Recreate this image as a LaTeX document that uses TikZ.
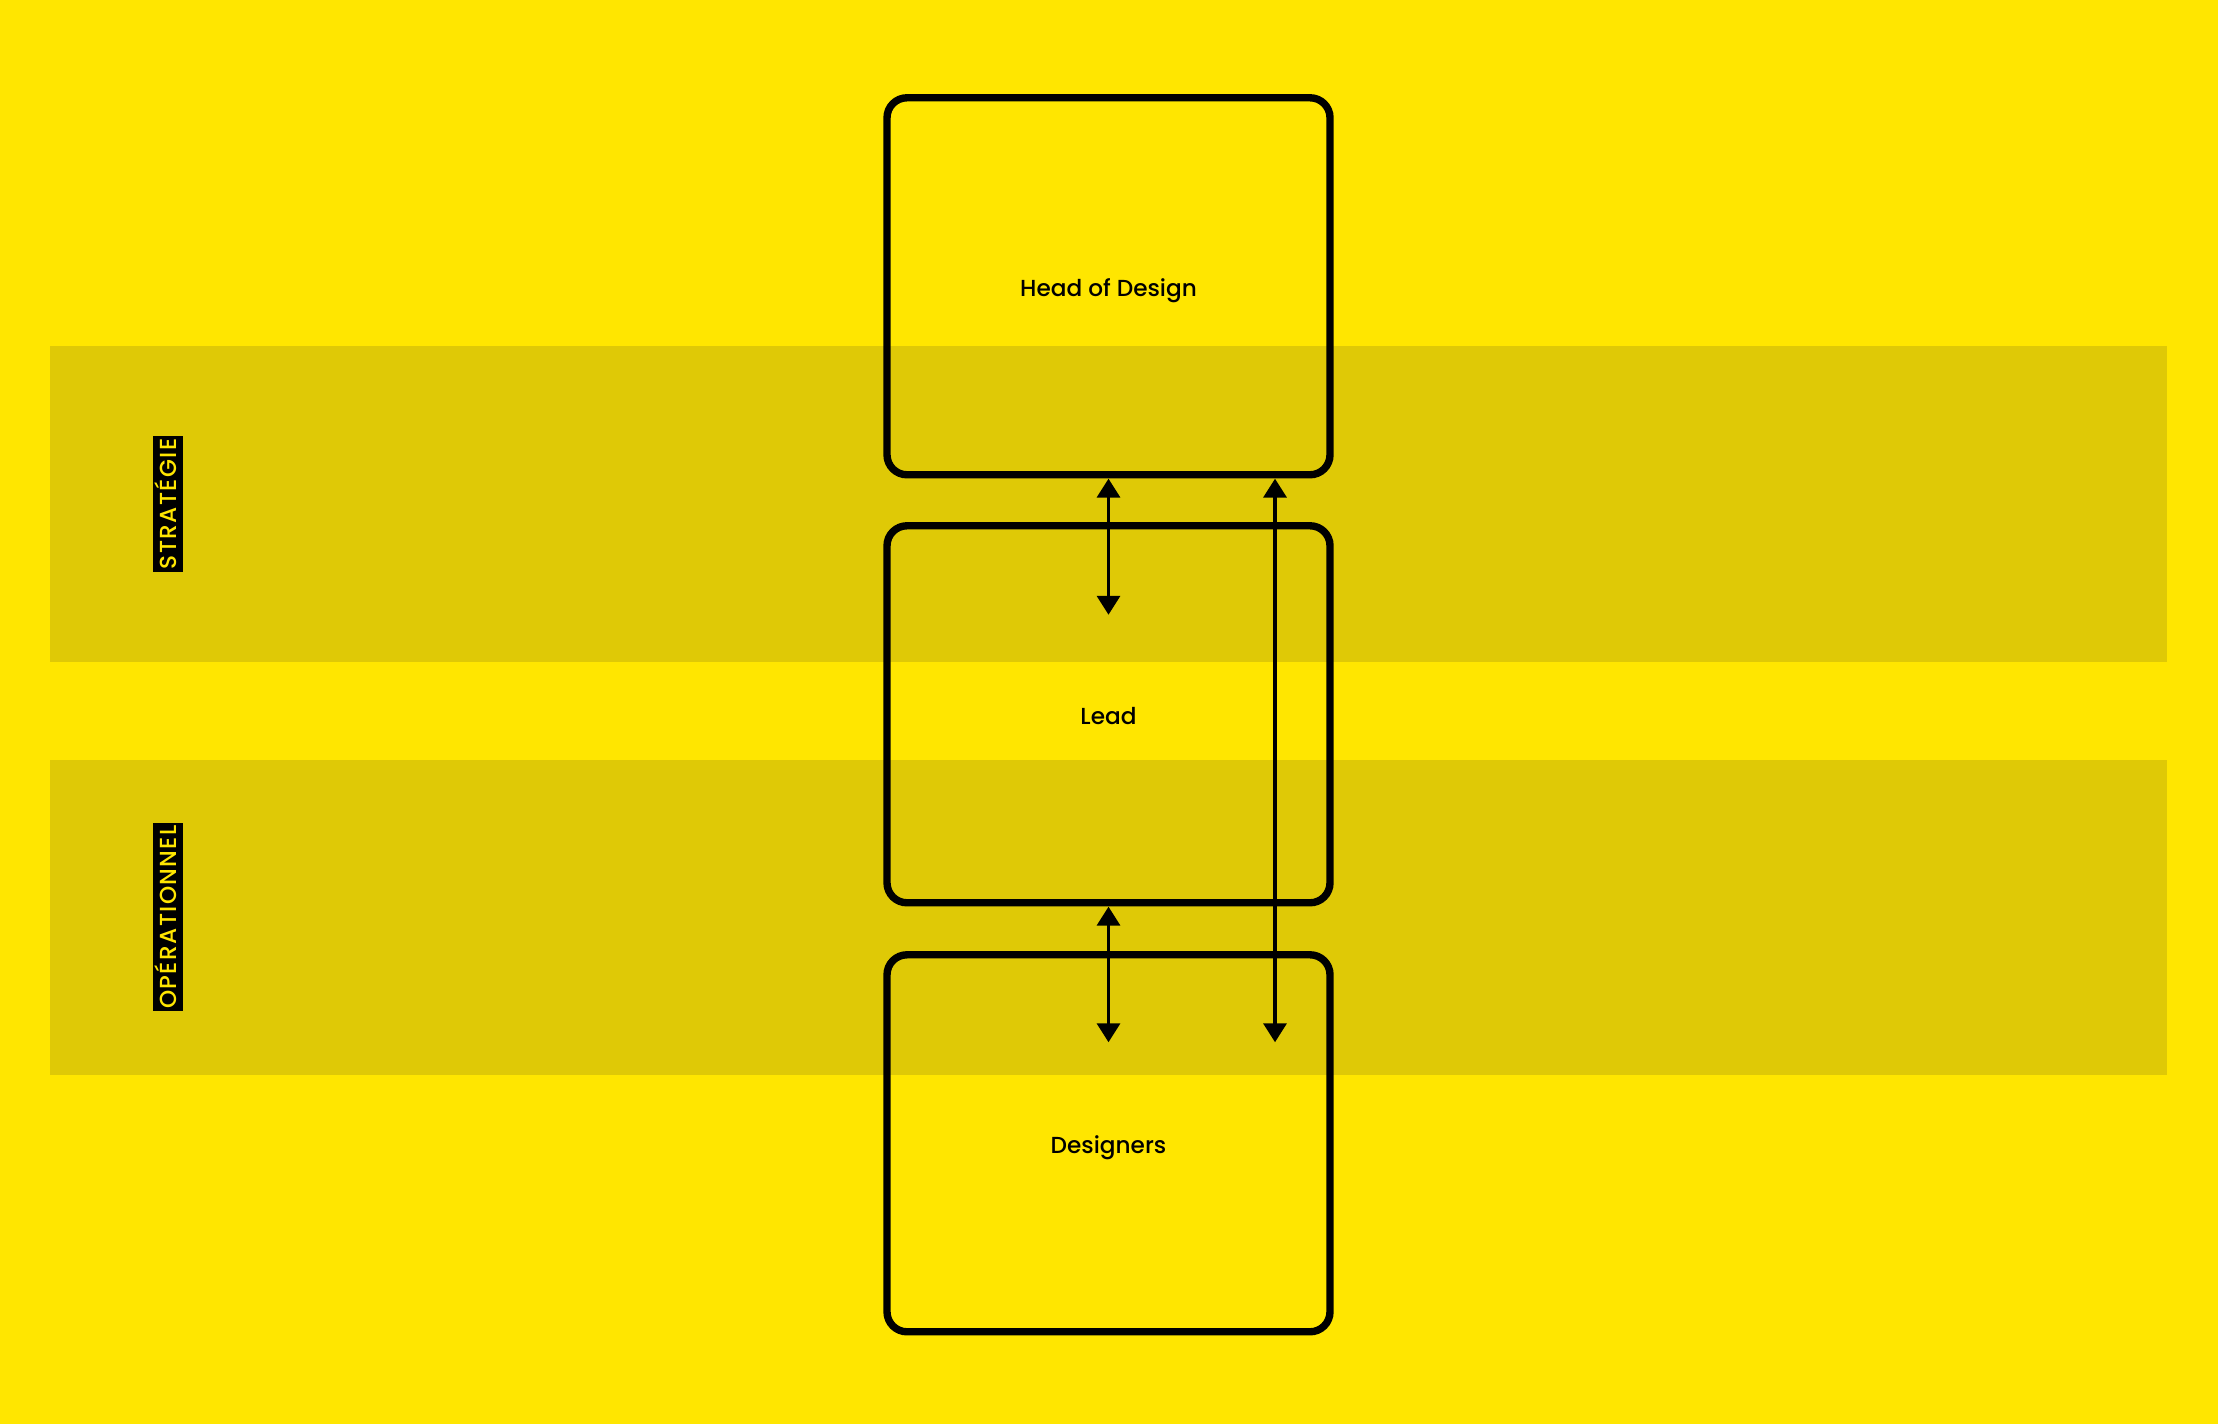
\documentclass[tikz,border=0pt]{standalone}
\usepackage{fontspec}
\setmainfont{Poppins}[UprightFont=* Medium]
\newfontfamily\layerfont{Poppins}[UprightFont=* Medium, LetterSpace=6]
\usetikzlibrary{positioning, arrows.meta}
\definecolor{bgyellow}{HTML}{FFE600}
\definecolor{bandyellow}{HTML}{DFC906}

\begin{document}
\begin{tikzpicture}[
		role/.style={draw, line width=2.1pt, rounded corners=0.2cm, minimum width=4.43cm, minimum height=3.77cm, inner sep=0pt, outer sep=0pt, text height=6pt, text depth=0pt, font=\fontsize{6.6}{8}\selectfont},
		layer/.style={fill=black, text=bgyellow, rotate=90, inner xsep=0.7pt, inner ysep=1.95pt, text height=4.6pt, text depth=0pt, font=\layerfont\fontsize{6.6}{8}\selectfont},
		link/.style={{Triangle[width=6.5pt,length=5.4pt]}-{Triangle[width=6.5pt,length=5.4pt]}, line width=1.1pt, shorten <=1.1pt}
	]
			% background and the two bands
			\fill[bgyellow] (0,0) rectangle (22.18,14.24);
			\fill[bandyellow] (0.495,7.62) rectangle (21.67,10.775);
			\fill[bandyellow] (0.495,3.49) rectangle (21.67,6.644);
			\node[layer] (strat) at (1.68,9.2) {STRATÉGIE};
			\node[layer] (oper) at (1.68,5.07) {OPÉRATIONNEL};
			% roles
			\node[role] (head) at (11.085,11.377) {Head of Design};
			\node[role, below=0.51cm of head] (lead) {Lead};
			\node[role, below=0.52cm of lead] (designers) {Designers};
			% links
			\coordinate[below=0.89cm of lead.north] (leadIn);
			\coordinate[below=0.875cm of designers.north] (designersIn);
			\coordinate (headSide) at ([xshift=1.665cm]head.south);
			\coordinate (designersSide) at ([xshift=1.665cm]designersIn);
			\draw[link] (head.south) -- (leadIn);
			\draw[link] (lead.south) -- (designersIn);
			\draw[link] (headSide) -- (designersSide);
		\end{tikzpicture}
\end{document}
